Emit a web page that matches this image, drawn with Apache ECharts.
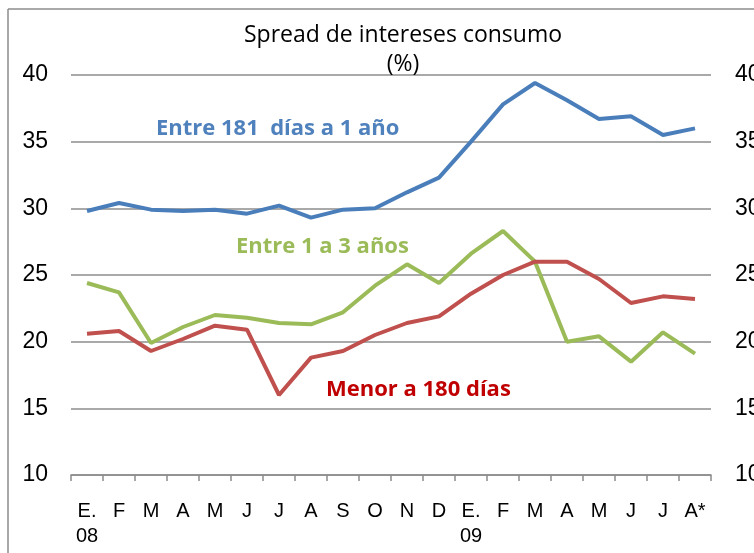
<!DOCTYPE html>
<html>
<head>
<meta charset="utf-8">
<script src="https://cdn.jsdelivr.net/npm/echarts@6/dist/echarts.min.js"></script>
<style>
  html, body { margin: 0; padding: 0; background: #fff; }
  #chart { width: 754px; height: 553px; }
</style>
</head>
<body>
<div id="chart"></div>
<script>
var months = ['E.\n08', 'F', 'M', 'A', 'M', 'J', 'J', 'A', 'S', 'O', 'N', 'D',
              'E.\n09', 'F', 'M', 'A', 'M', 'J', 'J', 'A*'];
var entre181 = [29.8, 30.4, 29.9, 29.8, 29.9, 29.6, 30.2, 29.3, 29.9, 30.0, 31.2, 32.3,
                35.0, 37.8, 39.4, 38.1, 36.7, 36.9, 35.5, 36.0];
var entre1a3 = [24.4, 23.7, 19.9, 21.1, 22.0, 21.8, 21.4, 21.3, 22.2, 24.2, 25.8, 24.4,
                26.6, 28.3, 26.0, 20.0, 20.4, 18.5, 20.7, 19.1];
var menor180 = [20.6, 20.8, 19.3, 20.2, 21.2, 20.9, 16.0, 18.8, 19.3, 20.5, 21.4, 21.9,
                23.6, 25.0, 26.0, 26.0, 24.7, 22.9, 23.4, 23.2];

var chart = echarts.init(document.getElementById('chart'));

var lblFont = 'Open Sans';

function yAxisDef(pos) {
    return {
        type: 'value',
        position: pos,
        min: 10,
        max: 40,
        interval: 5,
        axisLine: { show: false },
        axisTick: { show: false },
        axisLabel: { margin: pos === 'left' ? 23 : 24, fontFamily: 'Liberation Sans', fontSize: 23, color: '#000' },
        splitLine: { show: pos === 'left', lineStyle: { color: '#8c8c8c', width: 1.5 } }
    };
}

function lineSeries(name, data, color) {
    return {
        name: name,
        type: 'line',
        data: data,
        symbol: 'none',
        lineStyle: { color: color, width: 4 },
        itemStyle: { color: color }
    };
}

option = {
    animation: false,
    backgroundColor: '#fff',
    title: {
        text: 'Spread de intereses consumo\n(%)',
        left: 398,
        textAlign: 'center',
        top: 16,
        textStyle: { fontFamily: lblFont, fontSize: 23, fontWeight: 'normal', color: '#000', lineHeight: 29 }
    },
    grid: { left: 71, right: 43, top: 75, bottom: 78, outerBoundsMode: 'none' },
    xAxis: {
        type: 'category',
        data: months,
        boundaryGap: true,
        axisLine: { lineStyle: { color: '#8c8c8c', width: 1.5 } },
        axisTick: { show: true, length: 6, lineStyle: { color: '#8c8c8c', width: 1.5 } },
        axisLabel: { margin: 24, lineHeight: 25, align: 'center', interval: 0, verticalAlign: 'top',
            fontFamily: 'Liberation Sans', fontSize: 20, color: '#000' }
    },
    yAxis: [yAxisDef('left'), yAxisDef('right')],
    graphic: [
        { type: 'line', shape: { x1: 8, y1: 9, x2: 8, y2: 553 }, style: { stroke: '#8c8c8c', lineWidth: 1.5 } },
        { type: 'line', shape: { x1: 8, y1: 9, x2: 754, y2: 9 }, style: { stroke: '#8c8c8c', lineWidth: 1.5 } },
        { type: 'text', left: 156, top: 118,
          style: { text: 'Entre 181  días a 1 año', font: 'bold 22px "Open Sans"', fill: '#4f81bd' } },
        { type: 'text', left: 236, top: 236,
          style: { text: 'Entre 1 a 3 años', font: 'bold 22px "Open Sans"', fill: '#9bbb59' } },
        { type: 'text', left: 326, top: 379,
          style: { text: 'Menor a 180 días', font: 'bold 22px "Open Sans"', fill: '#c00000' } }
    ],
    series: [
        lineSeries('Entre 181 días a 1 año', entre181, '#4a7ebb'),
        lineSeries('Entre 1 a 3 años', entre1a3, '#9bbb59'),
        lineSeries('Menor a 180 días', menor180, '#c0504d')
    ]
};

chart.setOption(option);
</script>
</body>
</html>
